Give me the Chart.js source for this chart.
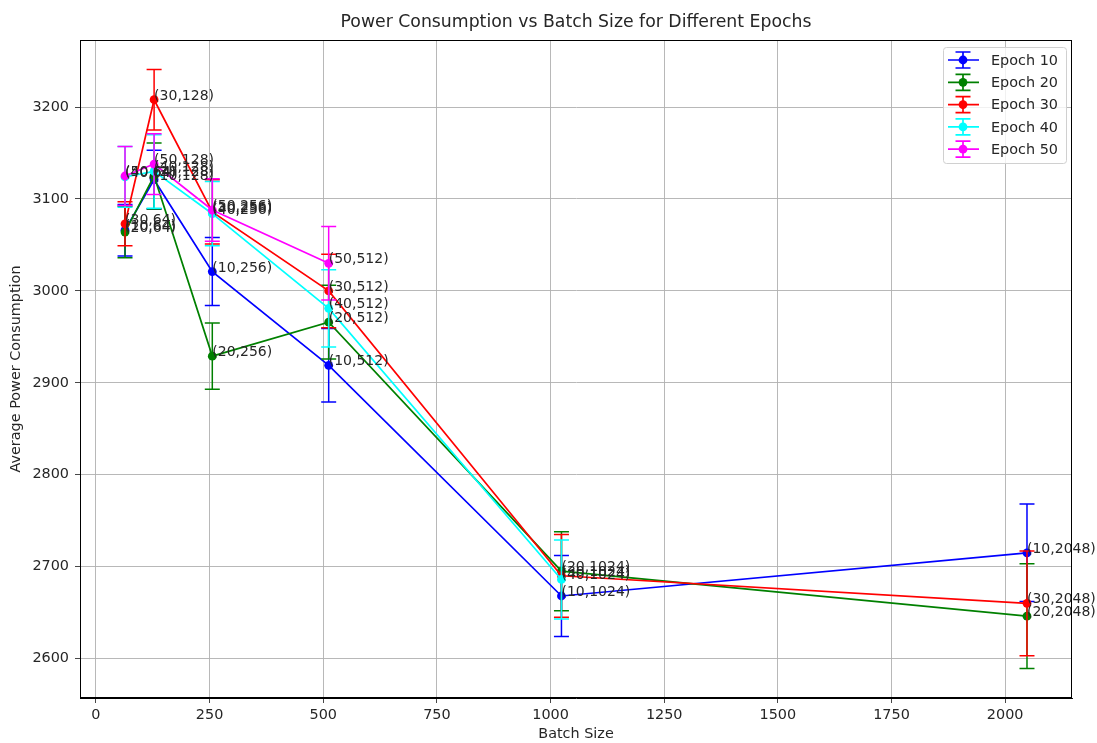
<!DOCTYPE html>
<html>
<head>
<meta charset="utf-8">
<script src="https://cdn.jsdelivr.net/npm/chart.js@4.4.1/dist/chart.umd.min.js"></script>
<style>
  html, body { margin: 0; padding: 0; background: #fff; }
  #wrap { width: 1097px; height: 743px; position: relative; }
</style>
</head>
<body>
<div id="wrap"><canvas id="c"></canvas></div>
<script>
// Batch sizes on the x axis and the epochs compared
const batchSizes = [64, 128, 256, 512, 1024, 2048];
const epochs = [10, 20, 30, 40, 50];

// Mean power per batch size, one array per epoch
const epoch10Mean = [3066, 3121, 3021, 2919, 2668, 2715];
const epoch20Mean = [3064, 3125, 2929, 2966, 2695, 2646];
const epoch30Mean = [3073, 3208, 3086, 3000, 2690, 2660];
const epoch40Mean = [3124, 3130, 3084, 2981, 2686];
const epoch50Mean = [3125, 3138, 3088, 3030];

// Standard deviation shown as error bars
const epoch10Std = [28, 32, 37, 40, 44, 53];
const epoch20Std = [28, 36, 36, 40, 43, 57];
const epoch30Std = [24, 33, 35, 40, 45, 57];
const epoch40Std = [33, 40, 35, 42, 43];
const epoch50Std = [32, 33, 34, 40];

const xTickValues = [0, 250, 500, 750, 1000, 1250, 1500, 1750, 2000];
const yTickValues = [2600, 2700, 2800, 2900, 3000, 3100, 3200];

const seriesColors = ['#0000ff', '#008000', '#ff0000', '#00ffff', '#ff00ff'];
const means = [epoch10Mean, epoch20Mean, epoch30Mean, epoch40Mean, epoch50Mean];
const stds = [epoch10Std, epoch20Std, epoch30Std, epoch40Std, epoch50Std];

const FONT = "'DejaVu Sans', sans-serif";
const TEXT = '#262626';
const LABEL_SIZE = 14.4;

const datasets = epochs.map((ep, i) => ({
  label: 'Epoch ' + ep,
  data: means[i].map((v, j) => ({ x: batchSizes[j], y: v })),
  errors: stds[i],
  epoch: ep,
  showLine: true,
  borderColor: seriesColors[i],
  backgroundColor: seriesColors[i],
  borderWidth: 1.7,
  pointRadius: 4.4,
  pointHoverRadius: 4.4,
  pointBorderWidth: 0,
  order: epochs.length - i
}));

const whiteBackground = {
  id: 'whiteBackground',
  beforeDraw(chart) {
    const ctx = chart.ctx;
    ctx.save();
    ctx.fillStyle = '#ffffff';
    ctx.fillRect(0, 0, chart.width, chart.height);
    ctx.restore();
  }
};

// Vertical error bars with caps, drawn just before each series
const errorBars = {
  id: 'errorBars',
  beforeDatasetDraw(chart, args) {
    const ds = chart.data.datasets[args.index];
    const xs = chart.scales.x, ys = chart.scales.y;
    const ctx = chart.ctx;
    ctx.save();
    ctx.strokeStyle = ds.borderColor;
    ctx.lineWidth = 1.5;
    ds.data.forEach((p, j) => {
      const e = ds.errors[j];
      const px = xs.getPixelForValue(p.x);
      const top = ys.getPixelForValue(p.y + e);
      const bot = ys.getPixelForValue(p.y - e);
      ctx.beginPath();
      ctx.moveTo(px, top); ctx.lineTo(px, bot);
      ctx.moveTo(px - 7.5, top); ctx.lineTo(px + 7.5, top);
      ctx.moveTo(px - 7.5, bot); ctx.lineTo(px + 7.5, bot);
      ctx.stroke();
    });
    ctx.restore();
  }
};

// "(epoch,batch)" labels next to each point
const pointLabels = {
  id: 'pointLabels',
  afterDatasetsDraw(chart) {
    const ctx = chart.ctx;
    const xs = chart.scales.x, ys = chart.scales.y;
    ctx.save();
    ctx.font = '14px ' + FONT;
    ctx.fillStyle = TEXT;
    ctx.textAlign = 'left';
    ctx.textBaseline = 'alphabetic';
    chart.data.datasets.forEach(ds => {
      ds.data.forEach(p => {
        ctx.fillText('(' + ds.epoch + ',' + p.x + ')', xs.getPixelForValue(p.x), ys.getPixelForValue(p.y));
      });
    });
    ctx.restore();
  }
};

// Frame, title and legend box
const decorations = {
  id: 'decorations',
  afterDraw(chart) {
    const ctx = chart.ctx;
    const a = chart.chartArea;
    ctx.save();
    ctx.strokeStyle = '#000';
    ctx.lineWidth = 1;
    ctx.strokeRect(Math.round(a.left) + 0.5, Math.round(a.top) + 0.5,
      Math.round(a.right - a.left) - 1, Math.round(a.bottom - a.top) - 1);

    ctx.fillStyle = TEXT;
    ctx.font = '17.3px ' + FONT;
    ctx.textAlign = 'center';
    ctx.textBaseline = 'middle';
    ctx.fillText('Power Consumption vs Batch Size for Different Epochs', (a.left + a.right) / 2, 23);

    // legend
    const bx = 943, by = 47, bw = 123, bh = 116;
    ctx.beginPath();
    ctx.roundRect(bx + 0.5, by + 0.5, bw, bh, 3);
    ctx.fillStyle = 'rgba(255,255,255,0.8)';
    ctx.fill();
    ctx.strokeStyle = '#d0d0d0';
    ctx.stroke();
    chart.data.datasets.forEach((ds, i) => {
      const cy = 60 + i * 22.3;
      const cx = 963;
      ctx.strokeStyle = ds.borderColor;
      ctx.lineWidth = 1.7;
      ctx.beginPath();
      ctx.moveTo(948, cy); ctx.lineTo(979, cy);
      ctx.moveTo(cx, cy - 8); ctx.lineTo(cx, cy + 8);
      ctx.moveTo(cx - 7.5, cy - 8); ctx.lineTo(cx + 7.5, cy - 8);
      ctx.moveTo(cx - 7.5, cy + 8); ctx.lineTo(cx + 7.5, cy + 8);
      ctx.stroke();
      ctx.beginPath();
      ctx.arc(cx, cy, 4.4, 0, Math.PI * 2);
      ctx.fillStyle = ds.borderColor;
      ctx.fill();
      ctx.fillStyle = TEXT;
      ctx.font = LABEL_SIZE + 'px ' + FONT;
      ctx.textAlign = 'left';
      ctx.textBaseline = 'middle';
      ctx.fillText(ds.label, 991, cy + 1);
    });
    ctx.restore();
  }
};

new Chart(document.getElementById('c'), {
  type: 'scatter',
  data: { datasets },
  plugins: [whiteBackground, errorBars, pointLabels, decorations],
  options: {
    responsive: true,
    maintainAspectRatio: false,
    animation: false,
    events: [],
    layout: { padding: { top: 40, right: 25, left: 0, bottom: 0 } },
    plugins: {
      legend: { display: false },
      tooltip: { enabled: false },
      title: { display: false }
    },
    scales: {
      x: {
        type: 'linear',
        min: -35,
        max: 2147,
        afterBuildTicks: s => { s.ticks = xTickValues.map(v => ({ value: v })); },
        afterFit: s => { s.height = 45; },
        ticks: { color: TEXT, font: { family: FONT, size: LABEL_SIZE }, padding: 4, maxRotation: 0,
          callback: v => String(v) },
        grid: { color: '#b0b0b0', lineWidth: 0.9, tickColor: '#333', tickLength: 5 },
        border: { display: true, color: '#000', width: 1 },
        title: { display: true, text: 'Batch Size', color: TEXT,
          font: { family: FONT, size: LABEL_SIZE }, padding: { top: 0, bottom: 0 } }
      },
      y: {
        type: 'linear',
        min: 2557,
        max: 3273,
        afterBuildTicks: s => { s.ticks = yTickValues.map(v => ({ value: v })); },
        afterFit: s => { s.width = 80; },
        ticks: { color: TEXT, font: { family: FONT, size: LABEL_SIZE }, padding: 6,
          callback: v => String(v) },
        grid: { color: '#b0b0b0', lineWidth: 0.9, tickColor: '#333', tickLength: 5 },
        border: { display: true, color: '#000', width: 1 },
        title: { display: true, text: 'Average Power Consumption', color: TEXT,
          font: { family: FONT, size: LABEL_SIZE }, padding: { top: 8, bottom: 0 } }
      }
    }
  }
});
</script>
</body>
</html>
